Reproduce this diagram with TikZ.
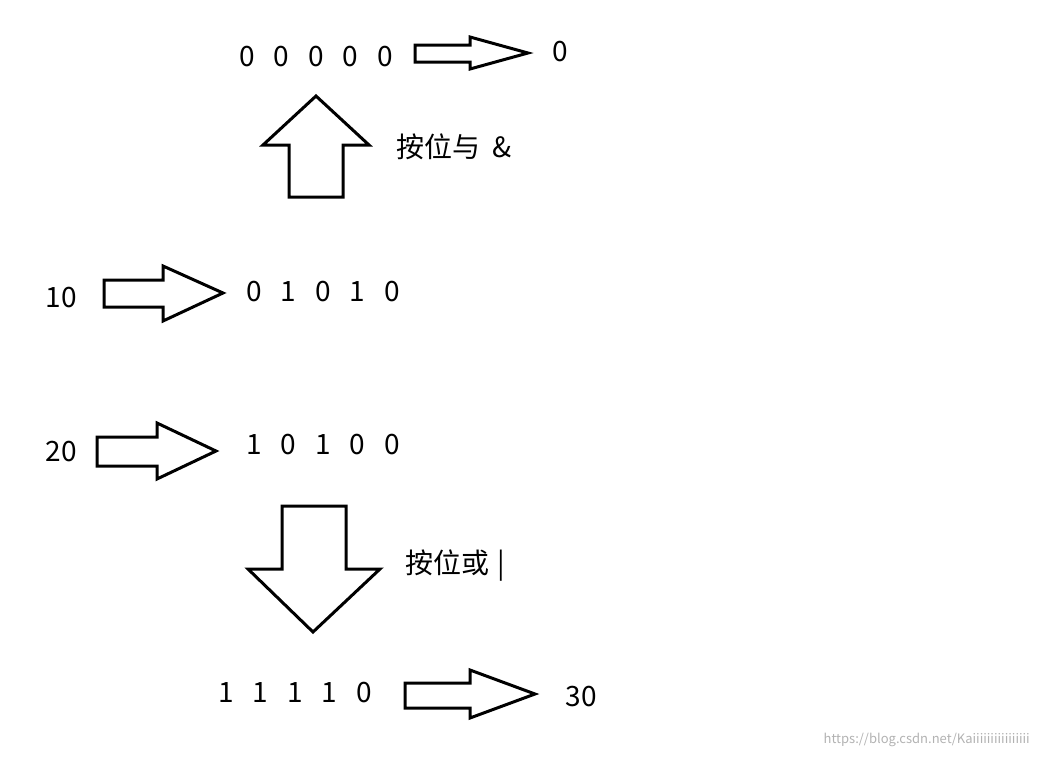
\documentclass[tikz,border=0pt]{standalone}
\usepackage{fontspec}
\setmainfont{Noto Sans CJK SC}
\newcommand{\dg}{\hspace{19pt}}
\begin{document}
\begin{tikzpicture}[x=1pt,y=-1pt,
  blk/.style={draw=black,line width=3pt,fill=white,line join=miter},
  txt/.style={font=\fontsize{28}{32}\selectfont,inner sep=0pt}]
\useasboundingbox (0,0) rectangle (1038,758);
% top right arrow
\draw[blk] (415,45)--(470,45)--(470,37)--(528,53)--(470,69)--(470,62)--(415,62)--cycle;
\node[txt] (r0) at (316,57) {0\dg0\dg0\dg0\dg0};
\node[txt] (z) at (560,52) {0};
% up arrow
\draw[blk] (316,96)--(369,145)--(343,145)--(343,197)--(289,197)--(289,145)--(263,145)--cycle;
\node[txt,anchor=west] (and) at (396,147) {按位与\hspace{12pt}\&};
% 10
\node[txt] (t10) at (61,298) {10};
\draw[blk] (104,280)--(163,280)--(163,266)--(223,293)--(163,321)--(163,307)--(104,307)--cycle;
\node[txt] (r10) at (323,292) {0\dg1\dg0\dg1\dg0};
% 20
\node[txt] (t20) at (61,452) {20};
\draw[blk] (97,437)--(157,437)--(157,423)--(216,451)--(157,479)--(157,466)--(97,466)--cycle;
\node[txt] (r20) at (323,445) {1\dg0\dg1\dg0\dg0};
% down arrow
\draw[blk] (282,506)--(346,506)--(346,569)--(380,569)--(313,632)--(248,569)--(282,569)--cycle;
\node[txt,anchor=west] (or) at (405,566) {按位或\hspace{8pt}|};
% bottom
\node[txt] (r30) at (295,693) {1\dg1\dg1\dg1\dg0};
\draw[blk] (405,683)--(470,683)--(470,670)--(535,694)--(470,718)--(470,708)--(405,708)--cycle;
\node[txt] (t30) at (581,697) {30};
\node[font=\fontsize{13}{15}\selectfont,text=gray!60,anchor=east,inner sep=0pt] (wm) at (1030,740) {https://blog.csdn.net/Kaiiiiiiiiiiiiiiii};
\end{tikzpicture}
\end{document}
